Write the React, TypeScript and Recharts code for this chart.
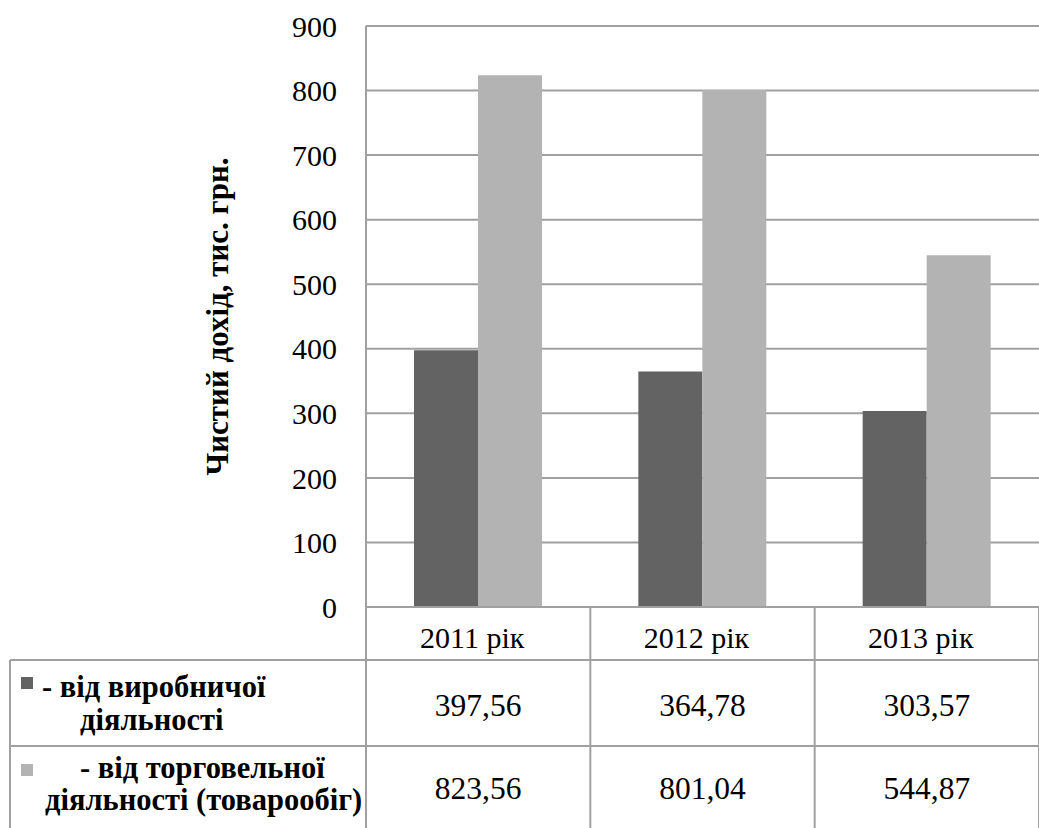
import { BarChart, Bar, XAxis, YAxis, CartesianGrid, Label } from 'recharts';

const years = ['2011 рік', '2012 рік', '2013 рік'];
const production = [397.56, 364.78, 303.57];
const trade = [823.56, 801.04, 544.87];
const yTicks = [0, 100, 200, 300, 400, 500, 600, 700, 800, 900];
const productionName = ['- від виробничої', 'діяльності'];
const tradeName = ['- від торговельної', 'діяльності (товарообіг)'];

const data = years.map((year, i) => ({ year, production: production[i], trade: trade[i] }));

const W = 1039;
const H = 828;
const PLOT_LEFT = 366;
const PLOT_TOP = 26;
const PLOT_BOTTOM = 607;
const BAND = (W - PLOT_LEFT) / years.length;
const HEADER_H = 53;
const ROW_H = 86;

const FONT = "'Liberation Serif'";
const GRID = '#a0a0a0';
const DARK = '#636363';
const LIGHT = '#b3b3b3';

const fmt = (v: number) => v.toFixed(2).replace('.', ',');

// one column of the data table under each category
function TableColumn(props: any) {
  const { x, y, payload } = props;
  const i = props.index ?? payload.index ?? 0;
  const left = x - BAND / 2;
  const right = x + BAND / 2;
  const line = { stroke: GRID, strokeWidth: 2 };
  const cell = { textAnchor: 'middle' as const, fill: '#000', style: { fontFamily: FONT } };
  return (
    <g>
      {i === 0 && <line x1={left} y1={y} x2={left} y2={H} {...line} />}
      <line x1={right} y1={y} x2={right} y2={H} {...line} />
      <line x1={left} y1={y + HEADER_H} x2={right} y2={y + HEADER_H} {...line} />
      <line x1={left} y1={y + HEADER_H + ROW_H} x2={right} y2={y + HEADER_H + ROW_H} {...line} />
      <text x={x - 6} y={y + 41} fontSize={30} {...cell}>
        {payload.value}
      </text>
      <text x={x} y={y + 109} fontSize={31.5} {...cell}>
        {fmt(production[i])}
      </text>
      <text x={x} y={y + 192} fontSize={31.5} {...cell}>
        {fmt(trade[i])}
      </text>
    </g>
  );
}

function AxisTitle({ viewBox }: any) {
  const cx = 217;
  const cy = viewBox ? viewBox.y + viewBox.height / 2 : (PLOT_TOP + PLOT_BOTTOM) / 2;
  return (
    <text
      x={cx}
      y={cy}
      transform={`rotate(-90 ${cx} ${cy})`}
      textAnchor="middle"
      dominantBaseline="central"
      style={{ fontFamily: FONT, fontWeight: 'bold', fontSize: 31 }}
      fill="#000"
    >
      Чистий дохід, тис. грн.
    </text>
  );
}

export default function App() {
  const rowTop = PLOT_BOTTOM + HEADER_H;
  const rowMid = rowTop + ROW_H;
  const legendText = { fill: '#000', style: { fontFamily: FONT, fontWeight: 'bold' as const, fontSize: 30.5 } };
  return (
    <div style={{ position: 'absolute', left: 0, top: 0, width: W, height: H, background: '#fff' }}>
      <BarChart
        width={W}
        height={H}
        data={data}
        margin={{ top: PLOT_TOP, right: 0, bottom: 0, left: 0 }}
        barGap={0}
        barSize={64}
      >
        <CartesianGrid vertical={false} stroke={GRID} strokeWidth={2} />
        <XAxis
          dataKey="year"
          height={H - PLOT_BOTTOM}
          axisLine={{ stroke: GRID, strokeWidth: 2 }}
          tickLine={false}
          tickSize={0}
          tickMargin={0}
          interval={0}
          tick={<TableColumn />}
        />
        <YAxis
          width={PLOT_LEFT}
          domain={[0, 900]}
          ticks={yTicks}
          axisLine={{ stroke: GRID, strokeWidth: 2 }}
          tickLine={false}
          tickSize={0}
          tickMargin={29}
          tick={{ fontSize: 30, fill: '#000', style: { fontFamily: FONT } }}
        >
          <Label content={<AxisTitle />} />
        </YAxis>
        <Bar dataKey="production" fill={DARK} isAnimationActive={false} />
        <Bar dataKey="trade" fill={LIGHT} isAnimationActive={false} />
      </BarChart>

      {/* series legend column of the data table */}
      <svg
        width={W}
        height={H}
        style={{ position: 'absolute', left: 0, top: 0, pointerEvents: 'none' }}
      >
        <line x1={10} y1={rowTop} x2={PLOT_LEFT} y2={rowTop} stroke={GRID} strokeWidth={2} />
        <line x1={10} y1={rowMid} x2={PLOT_LEFT} y2={rowMid} stroke={GRID} strokeWidth={2} />
        <line x1={10} y1={rowTop} x2={10} y2={H} stroke={GRID} strokeWidth={2} />

        <rect x={21} y={677} width={12} height={12} fill={DARK} />
        <text x={42} y={697} {...legendText}>{productionName[0]}</text>
        <text x={80} y={730} {...legendText}>{productionName[1]}</text>

        <rect x={21} y={764} width={12} height={12} fill={LIGHT} />
        <text x={80} y={778} {...legendText}>{tradeName[0]}</text>
        <text x={45} y={810} {...legendText}>{tradeName[1]}</text>
      </svg>
    </div>
  );
}
